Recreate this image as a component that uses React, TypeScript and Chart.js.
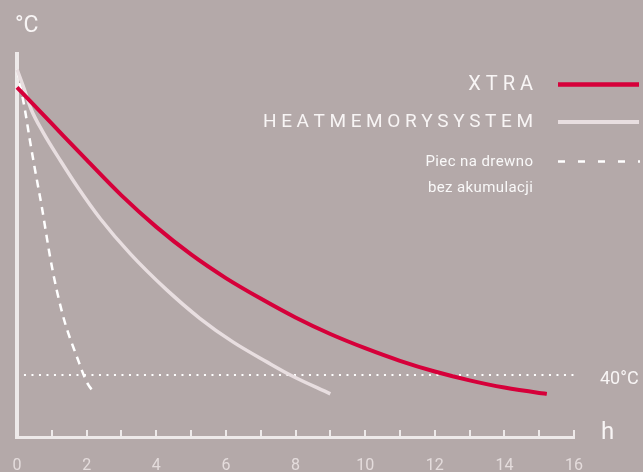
import React, { useEffect, useRef } from 'react';
import { Chart, registerables } from 'chart.js';

Chart.register(...registerables);

// ---- data ----
const xtraHours = [0, 1, 2, 3, 4, 5, 6, 7, 8, 9, 10, 11, 12, 13, 14, 15, 15.22];
const xtraTemps = [222.5, 199.5, 176.5, 154, 134, 116.5, 101.5, 88.5, 76.5, 66, 57, 49, 42.2, 36.6, 32, 28.6, 28];

const hmsHours = [0, 0.2, 0.4, 0.75, 1.25, 1.75, 2.4, 3.25, 4.3, 5.25, 6.2, 7.2, 7.85, 9.0];
const hmsTemps = [234, 222, 209, 194, 176, 159, 139, 117, 94, 76, 61, 48, 40, 28];

const woodHours = [0, 0.23, 0.37, 0.52, 0.71, 0.95, 1.14, 1.38, 1.72, 2.0, 2.24];
const woodTemps = [234, 208, 189, 170, 147, 115, 94, 73, 51.6, 35.7, 28];

const limitHours = [0.2, 16];
const limitTemps = [40, 40];

const xTickLabels = ['0', '2', '4', '6', '8', '10', '12', '14', '16'];
const xTickValues = [0, 2, 4, 6, 8, 10, 12, 14, 16];
const minorTickValues = [1, 2, 3, 4, 5, 6, 7, 8, 9, 10, 11, 12, 13, 14, 15, 16];

const seriesNames = ['XTRA', 'HEATMEMORYSYSTEM', 'Piec na drewno', 'bez akumulacji'];
const yUnit = '°C';
const xUnit = 'h';
const limitLabel = '40°C';

// ---- styles ----
const BG = 'rgb(180,169,169)';
const RED = 'rgb(214,0,58)';
const LIGHT = 'rgb(232,222,224)';
const WHITE = 'rgb(255,255,255)';
const AXIS = 'rgb(238,234,234)';
const TEXT = 'rgb(248,245,245)';
const TICKTEXT = 'rgb(228,220,220)';
const FONT = 'Roboto, "Noto Sans", sans-serif';

function pts(xs: number[], ys: number[]) {
  return xs.map((x, i) => ({ x, y: ys[i] }));
}

function spacedText(ctx: CanvasRenderingContext2D, text: string, right: number, baseline: number, spacing: number) {
  const chars = text.split('');
  const widths = chars.map((c) => ctx.measureText(c).width);
  const total = widths.reduce((a, b) => a + b, 0) + spacing * (chars.length - 1);
  let x = right - total;
  ctx.textAlign = 'left';
  chars.forEach((c, i) => {
    ctx.fillText(c, x, baseline);
    x += widths[i] + spacing;
  });
}

const overlayPlugin = {
  id: 'overlay',
  beforeDatasetsDraw(chart: any) {
    const { ctx, scales } = chart;
    const x = scales.x;
    const y = scales.y;
    const x0 = x.getPixelForValue(0);
    const y0 = y.getPixelForValue(0);
    const top = chart.chartArea.top;
    ctx.save();
    ctx.strokeStyle = AXIS;
    ctx.lineCap = 'butt';
    // y axis
    ctx.lineWidth = 4;
    ctx.beginPath();
    ctx.moveTo(x0, top);
    ctx.lineTo(x0, y0 + 1);
    ctx.stroke();
    // x axis
    ctx.lineWidth = 3;
    ctx.beginPath();
    ctx.moveTo(x0 - 2, y0 - 0.5);
    ctx.lineTo(x.getPixelForValue(16) + 1, y0 - 0.5);
    ctx.stroke();
    // ticks
    ctx.lineWidth = 2;
    minorTickValues.forEach((v) => {
      const px = Math.round(x.getPixelForValue(v));
      ctx.beginPath();
      ctx.moveTo(px, y0 - 8);
      ctx.lineTo(px, y0);
      ctx.stroke();
    });
    ctx.restore();
  },
  afterDraw(chart: any) {
    const { ctx, scales } = chart;
    const x = scales.x;
    const y = scales.y;
    ctx.save();
    // tick labels
    ctx.fillStyle = TICKTEXT;
    ctx.font = `16px ${FONT}`;
    ctx.textAlign = 'center';
    ctx.textBaseline = 'alphabetic';
    xTickValues.forEach((v, i) => {
      ctx.fillText(xTickLabels[i], x.getPixelForValue(v), 470);
    });
    // units
    ctx.fillStyle = TEXT;
    ctx.textAlign = 'left';
    ctx.font = `23px ${FONT}`;
    ctx.fillText(yUnit, 15, 31.5);
    ctx.font = `24px ${FONT}`;
    ctx.fillText(xUnit, 601, 439);
    ctx.font = `18px ${FONT}`;
    ctx.fillText(limitLabel, 600, y.getPixelForValue(40) + 9);

    // legend text
    ctx.fillStyle = TEXT;
    ctx.font = `20px ${FONT}`;
    spacedText(ctx, seriesNames[0], 533, 89.5, 5);
    ctx.font = `19px ${FONT}`;
    spacedText(ctx, seriesNames[1], 533, 127, 4.6);
    ctx.fillStyle = 'rgba(255,255,255,0.92)';
    ctx.font = `15px ${FONT}`;
    spacedText(ctx, seriesNames[2], 533, 166, 0.4);
    spacedText(ctx, seriesNames[3], 533, 192, 0.4);

    // legend lines
    ctx.lineCap = 'butt';
    ctx.strokeStyle = RED;
    ctx.lineWidth = 4.5;
    ctx.beginPath();
    ctx.moveTo(558, 84.5);
    ctx.lineTo(639, 84.5);
    ctx.stroke();
    ctx.strokeStyle = LIGHT;
    ctx.lineWidth = 4;
    ctx.beginPath();
    ctx.moveTo(558, 122);
    ctx.lineTo(639, 122);
    ctx.stroke();
    ctx.strokeStyle = WHITE;
    ctx.lineWidth = 2.5;
    ctx.setLineDash([7, 13]);
    ctx.beginPath();
    ctx.moveTo(558, 161.5);
    ctx.lineTo(640, 161.5);
    ctx.stroke();
    ctx.restore();
  },
};

export default function App() {
  const canvasRef = useRef<HTMLCanvasElement | null>(null);

  useEffect(() => {
    if (!canvasRef.current) return;
    const chart = new Chart(canvasRef.current, {
      type: 'line',
      data: {
        datasets: [
          {
            label: seriesNames[0],
            data: pts(xtraHours, xtraTemps),
            borderColor: RED,
            borderWidth: 4,
            pointRadius: 0,
            cubicInterpolationMode: 'monotone',
            clip: false,
            fill: false,
          },
          {
            label: seriesNames[1],
            data: pts(hmsHours, hmsTemps),
            borderColor: LIGHT,
            borderWidth: 3.5,
            pointRadius: 0,
            cubicInterpolationMode: 'monotone',
            clip: false,
            fill: false,
          },
          {
            label: seriesNames[2] + ' ' + seriesNames[3],
            data: pts(woodHours, woodTemps),
            borderColor: WHITE,
            borderWidth: 2.5,
            borderDash: [8, 6],
            pointRadius: 0,
            cubicInterpolationMode: 'monotone',
            clip: false,
            fill: false,
          },
          {
            label: limitLabel,
            data: pts(limitHours, limitTemps),
            borderColor: WHITE,
            borderWidth: 2,
            borderDash: [2, 5.5],
            pointRadius: 0,
            clip: false,
            fill: false,
          },
        ],
      } as any,
      options: {
        responsive: false,
        animation: false,
        devicePixelRatio: 1,
        layout: { padding: { left: 17, right: 69, top: 52, bottom: 34 } },
        scales: {
          x: { type: 'linear', min: 0, max: 16, display: false },
          y: { type: 'linear', min: 0, max: 245, display: false },
        },
        plugins: {
          legend: { display: false },
          tooltip: { enabled: false },
          title: { display: false },
        },
        events: [],
      } as any,
      plugins: [overlayPlugin],
    });
    return () => chart.destroy();
  }, []);

  return (
    <div
      style={{
        position: 'fixed',
        left: 0,
        top: 0,
        width: 643,
        height: 472,
        background: BG,
        overflow: 'hidden',
      }}
    >
      <canvas ref={canvasRef} width={643} height={472} style={{ display: 'block' }} />
    </div>
  );
}
